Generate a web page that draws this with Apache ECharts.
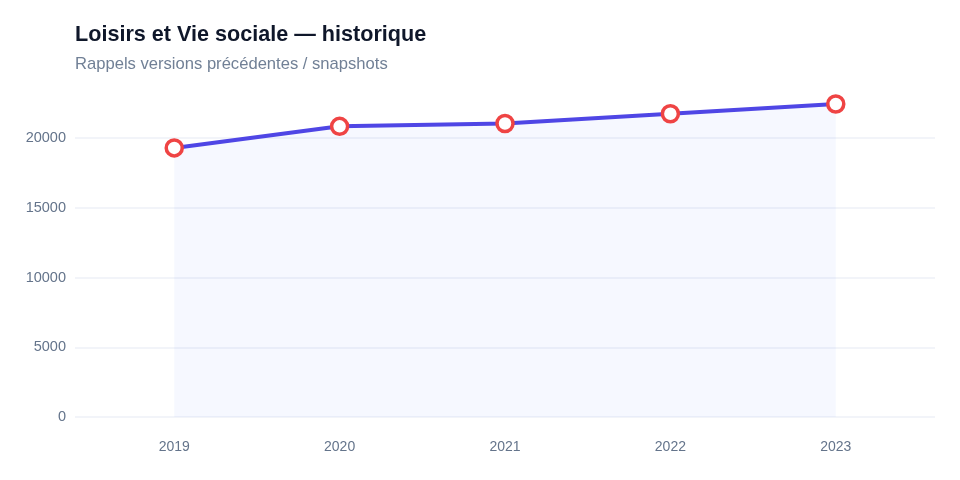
<!DOCTYPE html>
<html>
<head>
<meta charset="utf-8">
<script src="https://cdn.jsdelivr.net/npm/echarts@6/dist/echarts.min.js"></script>
<style>
  html, body { margin: 0; padding: 0; background: #fff; }
  #main { width: 960px; height: 480px; }
</style>
</head>
<body>
<div id="main"></div>
<script>
// données historiques
var years = [2019, 2020, 2021, 2022, 2023];
var values = [19300, 20850, 21050, 21750, 22450];
var yTicks = [0, 5000, 10000, 15000, 20000];

var chart = echarts.init(document.getElementById("main"));
var font = "Liberation Sans, Arial, sans-serif";

var option = {
  backgroundColor: "#ffffff",
  textStyle: { fontFamily: font },
  title: {
    text: "Loisirs et Vie sociale — historique",
    subtext: "Rappels versions précédentes / snapshots",
    left: 70,
    top: 19,
    itemGap: 10,
    textStyle: {
      color: "#0f172a",
      fontSize: 21.6,
      fontWeight: "bold",
      fontFamily: font
    },
    subtextStyle: {
      color: "#718096",
      fontSize: 16.6,
      fontFamily: font
    }
  },
  grid: {
    left: 75,
    right: 25,
    top: 104,
    bottom: 63
  },
  xAxis: {
    type: "value",
    min: 2018.4,
    max: 2023.6,
    axisLine: { show: false },
    axisTick: { show: false },
    splitLine: { show: false },
    axisLabel: {
      customValues: years,
      color: "#64748b",
      fontSize: 14,
      margin: 23,
      fontFamily: font,
      formatter: function (v) { return String(v); }
    }
  },
  yAxis: {
    type: "value",
    min: 0,
    max: "dataMax",
    interval: 5000,
    axisLine: { show: false },
    axisTick: { show: false },
    splitLine: {
      showMaxLine: false,
      lineStyle: { color: "#f2f4f9", width: 2 }
    },
    axisLabel: {
      customValues: yTicks,
      color: "#64748b",
      fontSize: 14.5,
      margin: 9,
      fontFamily: font,
      formatter: function (v) { return String(v); }
    }
  },
  series: [
    {
      type: "line",
      data: years.map(function (y, i) { return [y, values[i]]; }),
      symbol: "circle",
      symbolSize: 16,
      lineStyle: { color: "#4f46e5", width: 4 },
      itemStyle: {
        color: "#ffffff",
        borderColor: "#ef4444",
        borderWidth: 3.5
      },
      areaStyle: { color: "rgba(90, 120, 250, 0.08)" },
      z: 3
    }
  ]
};

chart.setOption(option);
</script>
</body>
</html>
